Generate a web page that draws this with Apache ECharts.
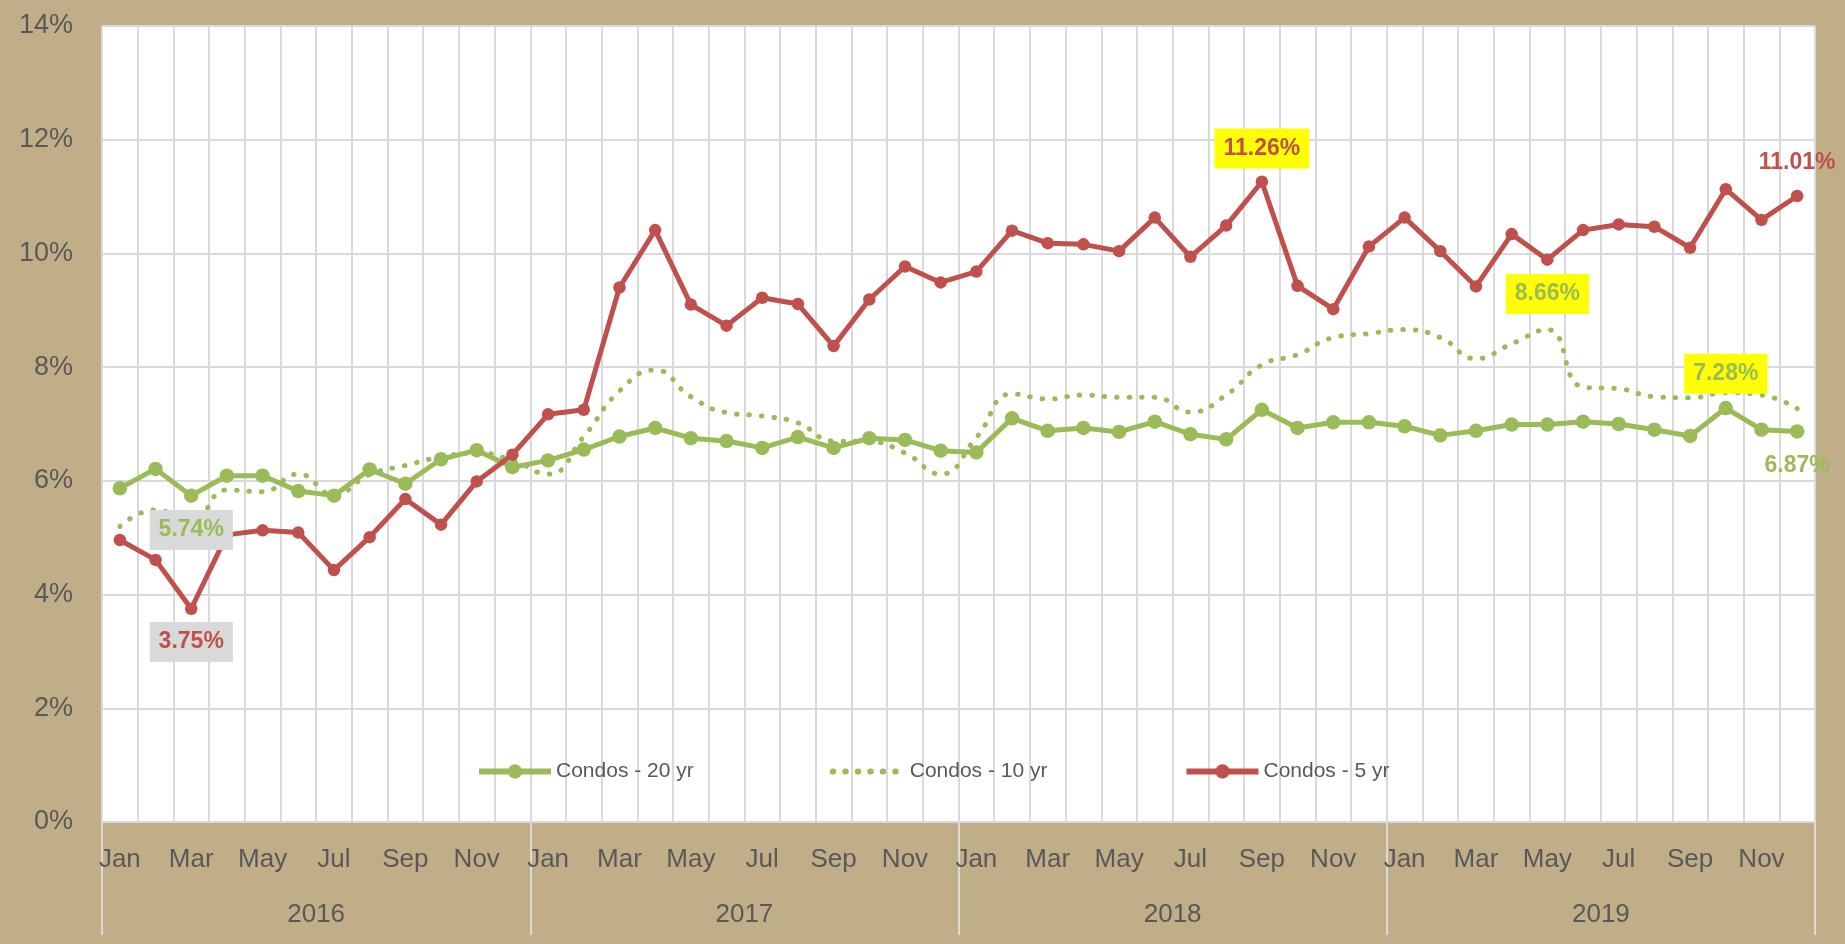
<!DOCTYPE html>
<html>
<head>
<meta charset="utf-8">
<style>
html, body { margin: 0; padding: 0; background: #BFAE87; }
#main { width: 1845px; height: 944px; }
</style>
<script src="https://cdn.jsdelivr.net/npm/echarts@6/dist/echarts.min.js"></script>
</head>
<body>
<div id="main"></div>
<script>
var monthNames = ['Jan','Feb','Mar','Apr','May','Jun','Jul','Aug','Sep','Oct','Nov','Dec'];
var months = [].concat(monthNames, monthNames, monthNames, monthNames);
var years = ['2016', '2017', '2018', '2019'];

var condo20 = [5.87, 6.21, 5.74, 6.09, 6.09, 5.82, 5.74, 6.20, 5.95, 6.38, 6.54, 6.24,
               6.36, 6.55, 6.78, 6.93, 6.75, 6.70, 6.58, 6.77, 6.58, 6.75, 6.72, 6.53,
               6.50, 7.10, 6.88, 6.93, 6.86, 7.04, 6.82, 6.73, 7.25, 6.93, 7.03, 7.03,
               6.96, 6.80, 6.88, 6.99, 6.99, 7.04, 7.00, 6.90, 6.79, 7.28, 6.90, 6.87];
var condo10 = [5.20, 5.49, 5.30, 5.84, 5.81, 6.12, 5.76, 6.11, 6.27, 6.42, 6.49, 6.36,
               6.12, 6.78, 7.58, 7.95, 7.48, 7.20, 7.14, 7.02, 6.70, 6.69, 6.49, 6.12,
               6.76, 7.53, 7.44, 7.51, 7.47, 7.47, 7.21, 7.51, 8.04, 8.22, 8.52, 8.59,
               8.66, 8.52, 8.15, 8.41, 8.66, 7.65, 7.62, 7.48, 7.46, 7.55, 7.51, 7.27];
var condo5 = [4.96, 4.61, 3.75, 5.05, 5.13, 5.09, 4.43, 5.01, 5.68, 5.23, 5.99, 6.46,
              7.17, 7.25, 9.40, 10.41, 9.10, 8.73, 9.22, 9.11, 8.37, 9.19, 9.77, 9.49,
              9.68, 10.40, 10.18, 10.16, 10.04, 10.63, 9.94, 10.49, 11.26, 9.43, 9.02, 10.12,
              10.63, 10.04, 9.42, 10.34, 9.89, 10.41, 10.51, 10.47, 10.10, 11.13, 10.59, 11.01];

// which points carry a value label (index -> kind)
var labels20 = {2: 'grayBelow', 45: 'yellowAbove', 47: 'plainBelow'};
var labels10 = {40: 'yellowAbove'};
var labels5 = {2: 'grayBelow', 32: 'yellowAbove', 47: 'plainAbove'};

var GREEN = '#9BBB59', RED = '#C0504D', TEXT = '#595959', GRID = '#D9D9D9';
var FONT = 'Liberation Sans, Arial, sans-serif';
var DOTS = [0.5, 12];

function pointLabel(kind, color, dist) {
    var bg = 'transparent';
    if (kind.indexOf('gray') == 0) bg = '#D9D9D9';
    if (kind.indexOf('yellow') == 0) bg = '#FFFF00';
    return {
        show: true,
        position: kind.indexOf('Below') > 0 ? 'bottom' : 'top',
        distance: dist,
        formatter: function (p) { return p.value.toFixed(2) + '%'; },
        color: color,
        fontFamily: FONT,
        fontSize: 23,
        fontWeight: 'bold',
        lineHeight: 24,
        backgroundColor: bg,
        padding: [8, 9]
    };
}

function buildData(values, marks, color, dist, extra) {
    return values.map(function (v, i) {
        if (!marks[i]) return v;
        var item = {value: v, label: pointLabel(marks[i], color, dist)};
        if (extra) for (var k in extra) item[k] = extra[k];
        return item;
    });
}

var myChart = echarts.init(document.getElementById('main'));

var option = {
    animation: false,
    textStyle: { fontFamily: FONT },
    grid: {
        left: 102, right: 30, top: 26, bottom: 122,
        show: true, backgroundColor: '#ffffff', borderWidth: 0
    },
    legend: {
        left: 476, top: 761, padding: 0,
        itemWidth: 72, itemHeight: 18, itemGap: 136,
        lineStyle: { width: 6 },
        textStyle: { fontSize: 21, color: TEXT, fontFamily: FONT },
        data: [
            'Condos - 20 yr',
            { name: 'Condos - 10 yr', itemStyle: { opacity: 0 }, lineStyle: { width: 6, type: DOTS, cap: 'round' } },
            'Condos - 5 yr'
        ]
    },
    xAxis: [
        {
            type: 'category',
            data: months,
            boundaryGap: true,
            axisLine: { show: false },
            axisTick: { show: false },
            axisLabel: { interval: 1, margin: 25, fontSize: 26, color: TEXT, fontFamily: FONT },
            splitLine: { show: true, interval: 0, lineStyle: { color: GRID, width: 2 } }
        },
        {
            type: 'category',
            data: years,
            position: 'bottom',
            boundaryGap: true,
            axisLine: { show: false },
            axisTick: { show: true, interval: 0, length: 113, lineStyle: { color: GRID, width: 2 } },
            axisLabel: { margin: 80, fontSize: 26, color: TEXT, fontFamily: FONT },
            splitLine: { show: false }
        }
    ],
    yAxis: {
        type: 'value',
        min: 0, max: 14, interval: 2,
        axisLine: { show: false },
        axisTick: { show: false },
        axisLabel: { formatter: '{value}%', fontSize: 27, color: TEXT, margin: 29, fontFamily: FONT },
        splitLine: { lineStyle: { color: GRID, width: 2 } }
    },
    series: [
        {
            name: 'Condos - 20 yr',
            type: 'line',
            data: buildData(condo20, labels20, GREEN, 7),
            symbol: 'circle',
            symbolSize: 14.5,
            itemStyle: { color: GREEN },
            lineStyle: { color: GREEN, width: 5 }
        },
        {
            name: 'Condos - 10 yr',
            type: 'line',
            smooth: 0.5,
            data: buildData(condo10, labels10, GREEN, 15, { symbol: 'circle', symbolSize: 1 }),
            symbol: 'none',
            itemStyle: { color: GREEN },
            lineStyle: { color: GREEN, width: 5, type: DOTS, cap: 'round' }
        },
        {
            name: 'Condos - 5 yr',
            type: 'line',
            data: buildData(condo5, labels5, RED, 7),
            symbol: 'circle',
            symbolSize: 12.5,
            itemStyle: { color: RED },
            lineStyle: { color: RED, width: 5 }
        }
    ]
};

myChart.setOption(option);
</script>
</body>
</html>
